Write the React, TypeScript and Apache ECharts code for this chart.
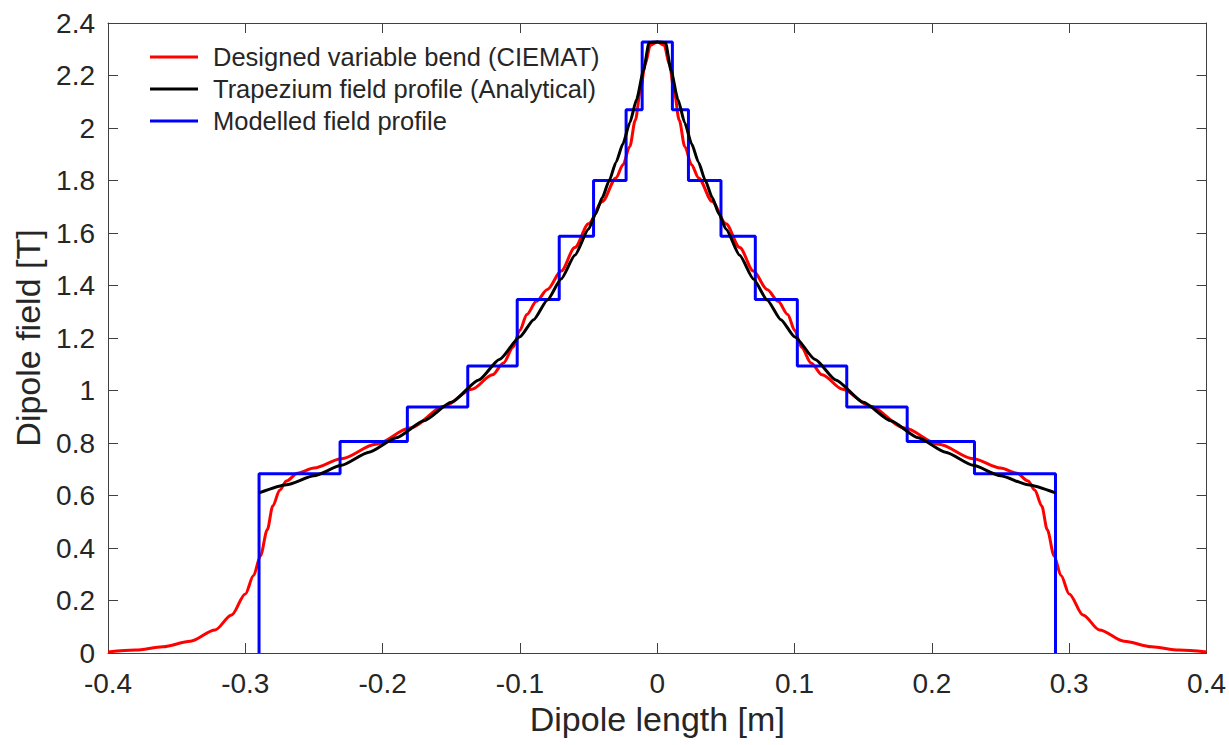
import React, { useEffect, useRef } from "react";
import * as echarts from "echarts";

const xTicks = { min: -0.4, max: 0.4, interval: 0.1 };
const yTicks = { min: 0, max: 2.4, interval: 0.2 };

const seriesNames = [
  "Designed variable bend (CIEMAT)",
  "Trapezium field profile (Analytical)",
  "Modelled field profile",
];

// Designed variable bend (CIEMAT) — half profile read for x >= 0 (the field is symmetric)
const redHalfX = [
  0, 0.005, 0.009, 0.012, 0.016, 0.02, 0.025, 0.03, 0.04, 0.05,
  0.06, 0.07, 0.08, 0.088, 0.095, 0.1, 0.105, 0.112, 0.12, 0.135,
  0.155, 0.18, 0.205, 0.23, 0.25, 0.262, 0.27, 0.275, 0.28, 0.284,
  0.289, 0.294, 0.3, 0.31, 0.322, 0.34, 0.36, 0.38, 0.4,
];
const redHalfY = [
  2.328, 2.315, 2.24, 2.15, 2.03, 1.93, 1.86, 1.81, 1.72, 1.635,
  1.545, 1.455, 1.385, 1.34, 1.29, 1.23, 1.165, 1.105, 1.06, 1.005,
  0.94, 0.857, 0.795, 0.74, 0.705, 0.685, 0.655, 0.62, 0.56, 0.47,
  0.37, 0.295, 0.225, 0.145, 0.088, 0.045, 0.024, 0.011, 0.004,
];

// Trapezium field profile (Analytical) — half profile for x >= 0
const blackHalfX = [
  0, 0.006, 0.01, 0.015, 0.02, 0.025, 0.03, 0.035, 0.04, 0.045,
  0.05, 0.06, 0.07, 0.08, 0.09, 0.1, 0.115, 0.13, 0.15, 0.17,
  0.19, 0.21, 0.23, 0.25, 0.27, 0.29,
];
const blackHalfY = [
  2.328, 2.326, 2.22, 2.11, 2.02, 1.94, 1.87, 1.8, 1.735, 1.672,
  1.615, 1.515, 1.425, 1.345, 1.27, 1.205, 1.118, 1.04, 0.955, 0.885,
  0.82, 0.765, 0.715, 0.675, 0.641, 0.61,
];

// Modelled field profile (piecewise-constant)
const stepEdges = [
  -0.29, -0.231, -0.182, -0.138, -0.102, -0.0714, -0.0464, -0.0227, -0.011,
  0.011, 0.0227, 0.0464, 0.0714, 0.102, 0.138, 0.182, 0.231, 0.29,
];
const stepLevels = [
  0.683, 0.806, 0.937, 1.093, 1.347, 1.588, 1.8, 2.07, 2.328,
  2.07, 1.8, 1.588, 1.347, 1.093, 0.937, 0.806, 0.683,
];

const FONT = "'Liberation Sans', Arial, Helvetica, sans-serif";
const AXIS_COLOR = "#404040";
const TEXT_COLOR = "#262626";

function mirror(hx: number[], hy: number[]): number[][] {
  const pts: number[][] = [];
  for (let i = hx.length - 1; i >= 1; i--) pts.push([-hx[i], hy[i]]);
  for (let i = 0; i < hx.length; i++) pts.push([hx[i], hy[i]]);
  return pts;
}

function buildSteps(): number[][] {
  const pts: number[][] = [[stepEdges[0], 0]];
  for (let i = 0; i < stepLevels.length; i++) {
    pts.push([stepEdges[i], stepLevels[i]]);
    pts.push([stepEdges[i + 1], stepLevels[i]]);
  }
  pts.push([stepEdges[stepEdges.length - 1], 0]);
  return pts;
}

export default function App() {
  const ref = useRef<HTMLDivElement>(null);
  useEffect(() => {
    if (!ref.current) return;
    const chart = echarts.init(ref.current, undefined, { renderer: "svg" });
    const axisLine = { show: true, onZero: false, lineStyle: { color: AXIS_COLOR, width: 1 } };
    const tick = { show: true, inside: true, length: 10, lineStyle: { color: AXIS_COLOR, width: 1 } };
    chart.setOption({
      animation: false,
      backgroundColor: "#ffffff",
      textStyle: { fontFamily: FONT },
      grid: { left: 108, right: 19, top: 23, bottom: 92, containLabel: false },
      legend: {
        data: seriesNames,
        orient: "vertical",
        left: 145,
        top: 38,
        itemWidth: 48,
        itemHeight: 3,
        itemGap: 4,
        icon: "rect",
        textStyle: {
          fontSize: 25.5,
          lineHeight: 28,
          color: TEXT_COLOR,
          fontFamily: FONT,
          padding: [0, 0, 0, 10],
        },
      },
      xAxis: [
        {
          type: "value",
          ...xTicks,
          position: "bottom",
          axisLine,
          axisTick: tick,
          splitLine: { show: false },
          axisLabel: { fontSize: 28, color: TEXT_COLOR, margin: 16, fontFamily: FONT },
          name: "Dipole length [m]",
          nameLocation: "middle",
          nameGap: 45,
          nameTextStyle: { fontSize: 34, color: TEXT_COLOR, fontFamily: FONT },
        },
        {
          type: "value",
          ...xTicks,
          position: "top",
          axisLine,
          axisTick: tick,
          splitLine: { show: false },
          axisLabel: { show: false },
        },
      ],
      yAxis: [
        {
          type: "value",
          ...yTicks,
          position: "left",
          axisLine,
          axisTick: tick,
          splitLine: { show: false },
          axisLabel: { fontSize: 28, color: TEXT_COLOR, margin: 13, fontFamily: FONT },
          name: "Dipole field [T]",
          nameLocation: "middle",
          nameGap: 61,
          nameTextStyle: { fontSize: 34, color: TEXT_COLOR, fontFamily: FONT },
        },
        {
          type: "value",
          ...yTicks,
          position: "right",
          axisLine,
          axisTick: tick,
          splitLine: { show: false },
          axisLabel: { show: false },
        },
      ],
      series: [
        {
          name: seriesNames[0],
          type: "line",
          data: mirror(redHalfX, redHalfY),
          showSymbol: false,
          symbol: "none",
          smooth: 0.3,
          smoothMonotone: "x",
          z: 2,
          itemStyle: { color: "#ff0000" },
          lineStyle: { color: "#ff0000", width: 3 },
        },
        {
          name: seriesNames[1],
          type: "line",
          data: mirror(blackHalfX, blackHalfY),
          showSymbol: false,
          symbol: "none",
          smooth: 0.2,
          smoothMonotone: "x",
          z: 4,
          itemStyle: { color: "#000000" },
          lineStyle: { color: "#000000", width: 3 },
        },
        {
          name: seriesNames[2],
          type: "line",
          data: buildSteps(),
          showSymbol: false,
          symbol: "none",
          z: 3,
          itemStyle: { color: "#0000ff" },
          lineStyle: { color: "#0000ff", width: 3 },
        },
      ],
    });
    return () => chart.dispose();
  }, []);
  return (
    <div
      ref={ref}
      style={{ position: "fixed", left: 0, top: 0, width: 1229, height: 745, background: "#fff" }}
    />
  );
}
